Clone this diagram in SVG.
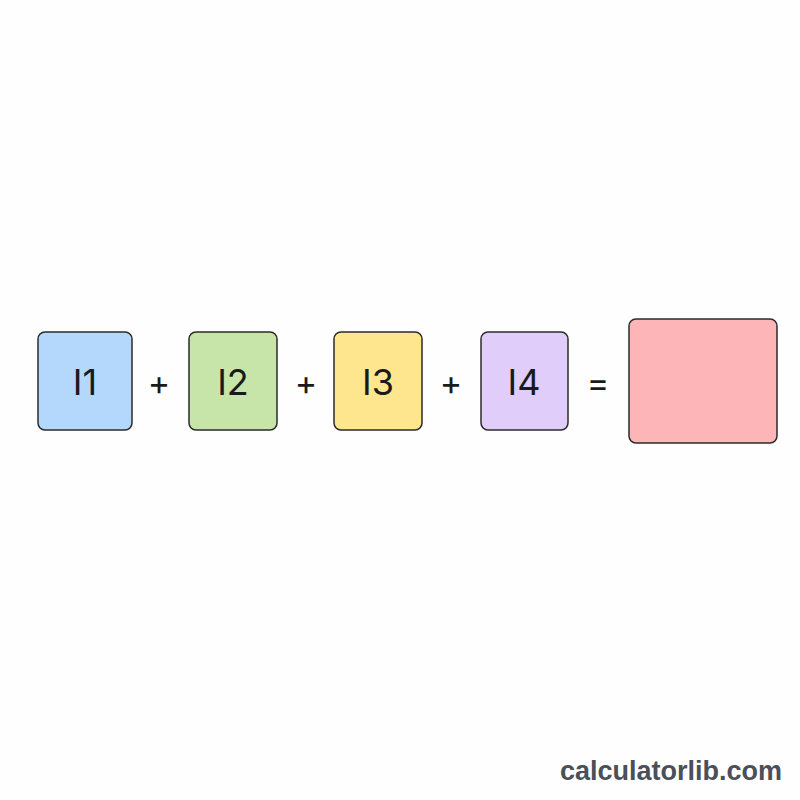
<svg xmlns="http://www.w3.org/2000/svg" width="800" height="800" viewBox="0 0 800 800">
<style>
.box{stroke:#2b2b2b;stroke-width:1.5}
.lbl{font-family:"Inter","Liberation Sans",sans-serif;font-size:36px;fill:#1a1a1a;text-anchor:middle;dominant-baseline:central}
.op{font-family:"Inter","Liberation Sans",sans-serif;font-size:34px;fill:#1a1a1a;text-anchor:middle;dominant-baseline:central}
.brand{font-family:"Liberation Sans",Arial,sans-serif;font-size:27px;font-weight:bold;fill:#4a4f5a;text-anchor:end}
</style>
<rect width="800" height="800" fill="#fefefe"/>
<g id="i1"><rect class="box" x="38" y="332" width="94" height="98" rx="7" fill="#b3d8fc"/><text class="lbl" x="85" y="382">I1</text></g>
<g id="i2"><rect class="box" x="189" y="332" width="88" height="98" rx="7" fill="#c7e5a9"/><text class="lbl" x="233" y="382">I2</text></g>
<g id="i3"><rect class="box" x="334" y="332" width="88" height="98" rx="7" fill="#fee68f"/><text class="lbl" x="378" y="382">I3</text></g>
<g id="i4"><rect class="box" x="481" y="332" width="87" height="98" rx="7" fill="#e1cdfa"/><text class="lbl" x="524" y="382">I4</text></g>
<g id="result"><rect class="box" x="629" y="319" width="148" height="124" rx="7" fill="#fdb5b8"/></g>
<g id="connectors">
<text class="op" x="159" y="382">+</text>
<text class="op" x="306" y="382">+</text>
<text class="op" x="451" y="382">+</text>
<text class="op" x="598" y="382">=</text>
</g>
<text class="brand" x="782" y="780">calculatorlib.com</text>
</svg>
